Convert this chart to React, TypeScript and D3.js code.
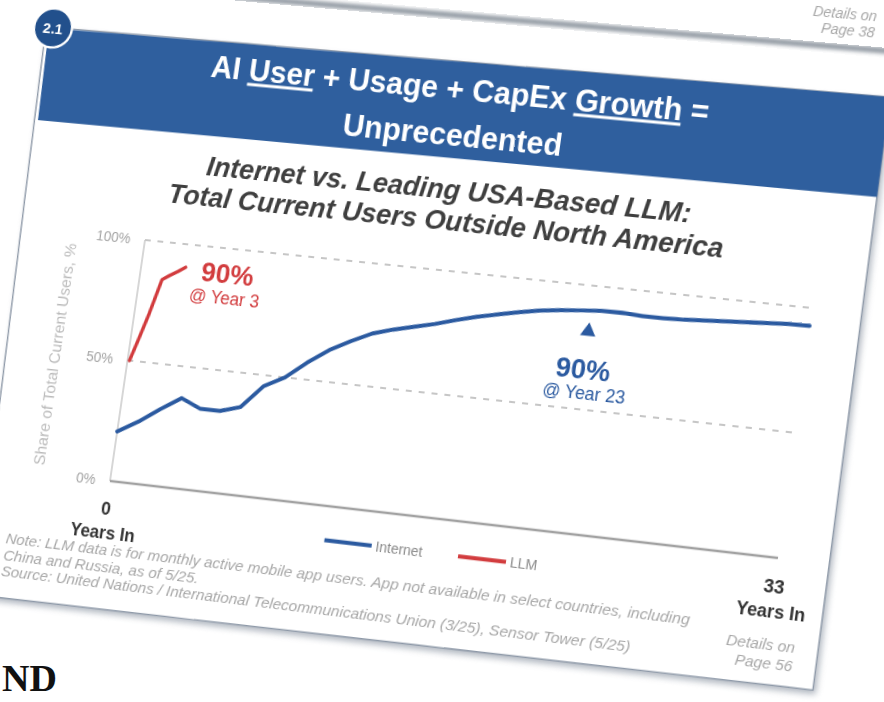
import React from "react";
import * as d3 from "d3";

// ---------------- data ----------------
const internetYears = [0, 1, 2, 3, 4, 5, 6, 7, 8, 9, 10, 11, 12, 13, 14, 15, 16, 17, 18, 19, 20, 21, 22, 23, 24, 25, 26, 27, 28, 29, 30, 31, 32, 33];
const internetShare = [20.5, 25.5, 31.5, 37, 33.5, 33.5, 36, 45.5, 50, 57, 63, 67.5, 71.5, 74, 76, 78, 80.5, 82.7, 84.5, 86.3, 87.8, 88.8, 89.6, 90.3, 90.4, 89.9, 89.9, 90.2, 90.7, 91.2, 91.7, 92.2, 92.7, 92.8];
const llmYears = [0.1, 0.4, 0.75, 1.15, 1.5, 1.9, 2.25];
const llmShare = [50, 59, 70, 84.5, 86.5, 88.5, 90.5];
const yTicks = [0, 50, 100];
const yTickLabels = ["0%", "50%", "100%"];
const gridValues = [50, 100];
const xEndYears = [0, 33];
const xEndLabels = ["0", "33"];
const xUnitLabel = "Years In";
const seriesNames = ["Internet", "LLM"];
const titleLine1 = [
  { t: "AI ", u: false },
  { t: "User", u: true },
  { t: " + Usage + CapEx ", u: false },
  { t: "Growth", u: true },
  { t: " =", u: false },
];
const titleLine2 = "Unprecedented";
const subtitleLines = ["Internet vs. Leading USA-Based LLM:", "Total Current Users Outside North America"];
const yAxisTitle = "Share of Total Current Users, %";
const noteLines = [
  "Note: LLM data is for monthly active mobile app users. App not available in select countries, including",
  "China and Russia, as of 5/25.",
  "Source: United Nations / International Telecommunications Union (3/25), Sensor Tower (5/25)",
];
const llmCallout = ["90%", "@ Year 3"];
const netCallout = ["90%", "@ Year 23"];
const detailsTop = ["Details on", "Page 38"];
const detailsBottom = ["Details on", "Page 56"];
const badgeLabel = "2.1";

// ---------------- colours ----------------
const NET = "#2b5aa0";
const LLM = "#d23c3e";
const BAND = "#2f5f9e";

// ---------------- projective layout (photo of a slide) ----------------
function solveH(src: number[][], dst: number[][]) {
  const A: number[][] = [];
  const b: number[] = [];
  for (let i = 0; i < 4; i++) {
    const [x, y] = src[i];
    const [X, Y] = dst[i];
    A.push([x, y, 1, 0, 0, 0, -x * X, -y * X]);
    b.push(X);
    A.push([0, 0, 0, x, y, 1, -x * Y, -y * Y]);
    b.push(Y);
  }
  const n = 8;
  for (let c = 0; c < n; c++) {
    let p = c;
    for (let r = c + 1; r < n; r++) if (Math.abs(A[r][c]) > Math.abs(A[p][c])) p = r;
    [A[c], A[p]] = [A[p], A[c]];
    [b[c], b[p]] = [b[p], b[c]];
    for (let r = 0; r < n; r++) {
      if (r === c) continue;
      const f = A[r][c] / A[c][c];
      for (let k = c; k < n; k++) A[r][k] -= f * A[c][k];
      b[r] -= f * b[c];
    }
  }
  return b.map((v, i) => v / A[i][i]);
}
function applyH(h: number[], p: number[]) {
  const w = h[6] * p[0] + h[7] * p[1] + 1;
  return [(h[0] * p[0] + h[1] * p[1] + h[2]) / w, (h[3] * p[0] + h[4] * p[1] + h[5]) / w];
}

const PLOT = { left: 130, right: 802, top: 240, bottom: 484 };
const FLAT_PLOT = [
  [PLOT.left, PLOT.top],
  [PLOT.right, PLOT.top],
  [PLOT.right, PLOT.bottom],
  [PLOT.left, PLOT.bottom],
];
const IMG_PLOT = [
  [145, 240],
  [812, 308],
  [778, 558],
  [110, 481],
];
const HM = solveH(FLAT_PLOT, IMG_PLOT);
const HI = solveH(IMG_PLOT, FLAT_PLOT);
const F = (p: number[]) => applyH(HI, p);

// decoration anchors in photo space
const IMG_SLIDE = [[46, 27], [890, 97], [813, 690], [-24, 595]];
const IMG_BAND = [[49, 28], [890, 97], [877, 197], [38, 120]];
const IMG_PREV = [[150, -10], [900, 52]];
const IMG_BADGE = [53, 28];
const IMG_T1 = [457, 89];
const IMG_T2 = [452, 135];
const IMG_S1 = [446, 189];
const IMG_S2 = [442, 220];
const IMG_YT = [55, 354];
const IMG_LEG = [[348, 543], [482, 559]];
const IMG_NOTE = [6, 538];
const IMG_DT = [877, 16];
const IMG_DB = [795, 648];

const SANS = "'Liberation Sans', Arial, sans-serif";

export default function App() {
  const x = d3.scaleLinear().domain([0, 33]).range([PLOT.left, PLOT.right]);
  const y = d3.scaleLinear().domain([0, 100]).range([PLOT.bottom, PLOT.top]);
  const line = d3
    .line<number[]>()
    .x((d) => x(d[0]))
    .y((d) => y(d[1]));
  const netPath = line(internetYears.map((yr, i) => [yr, internetShare[i]])) || "";
  const llmPath = line(llmYears.map((yr, i) => [yr, llmShare[i]])) || "";
  const tri = d3.symbol(d3.symbolTriangle, 100)() || "";

  const matrix = `matrix3d(${HM[0]},${HM[3]},0,${HM[6]},${HM[1]},${HM[4]},0,${HM[7]},0,0,1,0,${HM[2]},${HM[5]},0,1)`;
  const poly = (pts: number[][]) => pts.map(F).map((p) => p.join(",")).join(" ");

  const [bx, by] = F(IMG_BADGE);
  const [t1x, t1y] = F(IMG_T1);
  const [t2x, t2y] = F(IMG_T2);
  const [s1x, s1y] = F(IMG_S1);
  const [s2x, s2y] = F(IMG_S2);
  const [ytx, yty] = F(IMG_YT);
  const leg = IMG_LEG.map(F);
  const [nx, ny] = F(IMG_NOTE);
  const [dtx, dty] = F(IMG_DT);
  const [dbx, dby] = F(IMG_DB);
  const prev = IMG_PREV.map(F);

  return (
    <div style={{ position: "fixed", left: 0, top: 0, width: 884, height: 702, overflow: "hidden", background: "#fff" }}>
      <svg width={884} height={702} style={{ position: "absolute", left: 0, top: 0 }}>
        <rect width={884} height={702} fill="#ffffff" />
        <text x={2} y={691} textAnchor="start" fontFamily="'Liberation Serif', 'Times New Roman', serif" fontWeight="bold" fontSize={38} fill="#111">
          ND
        </text>
      </svg>
      <svg
        width={1000}
        height={800}
        style={{ position: "absolute", left: 0, top: 0, overflow: "visible", transformOrigin: "0 0", transform: matrix }}
      >
        <defs>
          <filter id="blur" x="-10%" y="-10%" width="120%" height="120%">
            <feGaussianBlur stdDeviation="3" />
          </filter>
          <filter id="blur2" x="-10%" y="-50%" width="120%" height="200%">
            <feGaussianBlur stdDeviation="2" />
          </filter>
        </defs>
        {/* previous slide edge */}
        <line x1={prev[0][0]} y1={prev[0][1]} x2={prev[1][0]} y2={prev[1][1]} stroke="#7f8893" strokeWidth={5} filter="url(#blur2)" />
        <text x={dtx} y={dty} textAnchor="end" fontFamily={SANS} fontStyle="italic" fontSize={14} fill="#a8a8a8">
          <tspan x={dtx} dy="0.35em">{detailsTop[0]}</tspan>
          <tspan x={dtx} dy="1.15em">{detailsTop[1]}</tspan>
        </text>
        {/* slide */}
        <g transform="translate(3,4)">
          <polygon points={poly(IMG_SLIDE)} fill="#6f7b8c" opacity={0.55} filter="url(#blur)" />
        </g>
        <polygon points={poly(IMG_SLIDE)} fill="#ffffff" stroke="#8e99a8" strokeWidth={1.4} />
        <polygon points={poly(IMG_BAND)} fill={BAND} />
        <circle cx={bx} cy={by} r={20} fill="#22508c" stroke="#ffffff" strokeWidth={2.5} />
        <text x={bx} y={by} dy="0.36em" textAnchor="middle" fontFamily={SANS} fontWeight="bold" fontSize={15} fill="#fff">
          {badgeLabel}
        </text>
        {/* title */}
        <text x={t1x} y={t1y} dy="0.36em" textAnchor="middle" fontFamily={SANS} fontWeight="bold" fontSize={30.5} fill="#fff">
          {titleLine1.map((p, i) => (
            <tspan key={i} textDecoration={p.u ? "underline" : undefined}>
              {p.t}
            </tspan>
          ))}
        </text>
        <text x={t2x} y={t2y} dy="0.36em" textAnchor="middle" fontFamily={SANS} fontWeight="bold" fontSize={30.5} fill="#fff">
          {titleLine2}
        </text>
        {/* subtitle */}
        <text x={s1x} y={s1y} dy="0.36em" textAnchor="middle" fontFamily={SANS} fontWeight="bold" fontStyle="italic" fontSize={27.5} fill="#3f3f3f">
          {subtitleLines[0]}
        </text>
        <text x={s2x} y={s2y} dy="0.36em" textAnchor="middle" fontFamily={SANS} fontWeight="bold" fontStyle="italic" fontSize={27.5} fill="#3f3f3f">
          {subtitleLines[1]}
        </text>
        {/* grid */}
        {gridValues.map((v) => (
          <line key={v} x1={PLOT.left} x2={PLOT.right} y1={y(v)} y2={y(v)} stroke="#c6c6c6" strokeWidth={2} strokeDasharray="6 7" />
        ))}
        <line x1={PLOT.left} x2={PLOT.left} y1={PLOT.top} y2={PLOT.bottom} stroke="#c8c8c8" strokeWidth={1.5} />
        <line x1={PLOT.left} x2={PLOT.right} y1={PLOT.bottom} y2={PLOT.bottom} stroke="#a2a2a2" strokeWidth={2.5} />
        {yTicks.map((v, i) => (
          <text key={v} x={PLOT.left - 15} y={y(v)} dy="0.35em" textAnchor="end" fontFamily={SANS} fontSize={14} fill="#a3a3a3">
            {yTickLabels[i]}
          </text>
        ))}
        <text transform={`translate(${ytx},${yty}) rotate(-90)`} dy="0.35em" textAnchor="middle" fontFamily={SANS} fontSize={16} fill="#bababa">
          {yAxisTitle}
        </text>
        {xEndYears.map((yr, i) => (
          <g key={yr}>
            <text x={x(yr)} y={PLOT.bottom + 28} dy="0.35em" textAnchor="middle" fontFamily={SANS} fontWeight="bold" fontSize={18} fill="#333">
              {xEndLabels[i]}
            </text>
            <text x={x(yr)} y={PLOT.bottom + 52} dy="0.35em" textAnchor="middle" fontFamily={SANS} fontWeight="bold" fontSize={17.5} fill="#333">
              {xUnitLabel}
            </text>
          </g>
        ))}
        {/* series */}
        <path d={netPath} fill="none" stroke={NET} strokeWidth={4} strokeLinejoin="round" strokeLinecap="round" />
        <path d={llmPath} fill="none" stroke={LLM} strokeWidth={3.5} strokeLinejoin="round" strokeLinecap="round" />
        {/* callouts */}
        <text x={x(4.4)} y={y(89.7)} dy="0.35em" textAnchor="middle" fontFamily={SANS} fontWeight="bold" fontSize={27} fill={LLM}>
          {llmCallout[0]}
        </text>
        <text x={x(4.4)} y={y(79.5)} dy="0.35em" textAnchor="middle" fontFamily={SANS} fontSize={17.5} fill={LLM}>
          {llmCallout[1]}
        </text>
        <path d={tri} transform={`translate(${x(22.5)},${y(81.5)})`} fill={NET} />
        <text x={x(22.5)} y={y(66)} dy="0.35em" textAnchor="middle" fontFamily={SANS} fontWeight="bold" fontSize={27} fill={NET}>
          {netCallout[0]}
        </text>
        <text x={x(22.7)} y={y(56.5)} dy="0.35em" textAnchor="middle" fontFamily={SANS} fontSize={17.5} fill={NET}>
          {netCallout[1]}
        </text>
        {/* legend */}
        {seriesNames.map((name, i) => (
          <g key={name}>
            <line x1={leg[i][0] - 24} x2={leg[i][0] + 24} y1={leg[i][1]} y2={leg[i][1]} stroke={i === 0 ? NET : LLM} strokeWidth={4} />
            <text x={leg[i][0] + 28} y={leg[i][1]} dy="0.35em" fontFamily={SANS} fontSize={14} fill="#8a8a8a">
              {name}
            </text>
          </g>
        ))}
        {/* notes */}
        {noteLines.map((t, i) => (
          <text key={i} x={nx} y={ny + i * 16.5} dy="0.35em" fontFamily={SANS} fontStyle="italic" fontSize={15.5} fill="#a8a8a8">
            {t}
          </text>
        ))}
        <text x={dbx} y={dby} textAnchor="end" fontFamily={SANS} fontStyle="italic" fontSize={15} fill="#a8a8a8">
          <tspan x={dbx} dy="0.35em">{detailsBottom[0]}</tspan>
          <tspan x={dbx} dy="1.15em">{detailsBottom[1]}</tspan>
        </text>
      </svg>
    </div>
  );
}
